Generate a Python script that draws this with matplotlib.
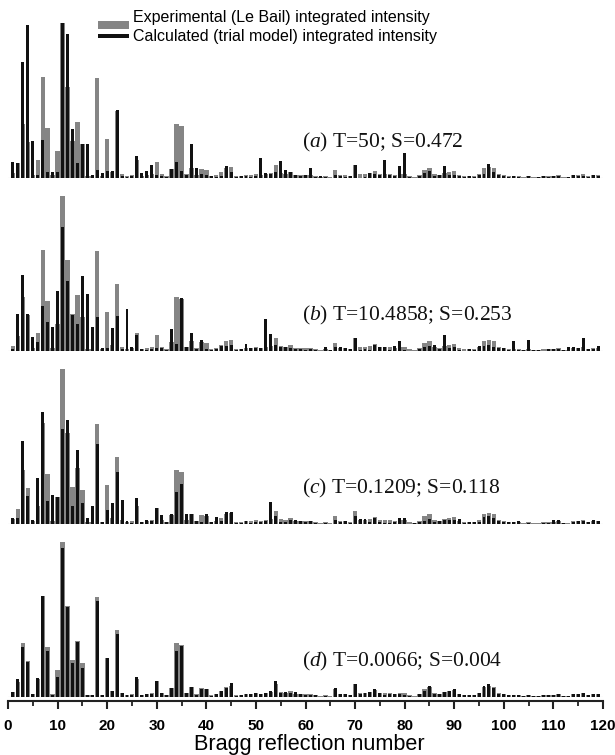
import matplotlib
matplotlib.use("Agg")
import matplotlib.pyplot as plt
import numpy as np
from matplotlib.patches import Rectangle

plt.rcParams["font.family"] = ["Liberation Sans", "DejaVu Sans"]
plt.rcParams["mathtext.fontset"] = "custom"
plt.rcParams["mathtext.rm"] = "Liberation Serif"
plt.rcParams["mathtext.it"] = "Liberation Serif:italic"

# Bragg reflection numbers 1..119
reflections = np.arange(1, 120)

# experimental (Le Bail) integrated intensity, same in every panel
experimental = (
    [5, 15, 54, 36, 3, 18, 101, 50, 3, 27, 155, 91, 37, 56, 34, 2, 2, 100, 2, 39,
     6, 67, 4, 2, 3, 18, 2, 3, 4, 16, 4, 2, 9, 54, 52, 4, 10, 3, 9, 8]
    + [2, 3, 6, 10, 11, 2, 2, 3, 3, 4, 3, 4, 5, 13, 5, 4, 6, 3, 3, 3,
       3, 2, 1, 2, 1, 8, 3, 3, 2, 13, 4, 4, 5, 7, 4, 4, 4, 3, 4, 4]
    + [2, 1, 3, 8, 10, 4, 3, 5, 6, 7, 3, 2, 2, 2, 4, 10, 11, 10, 4, 3,
       2, 2, 2, 1, 2, 1, 1, 2, 2, 2, 3, 1, 1, 3, 3, 4, 2, 3, 3]
)

# calculated (trial model) integrated intensity for each panel
calc_a = (
    [16, 15, 116, 153, 37, 3, 38, 6, 6, 6, 155, 144, 49, 15, 34, 34, 3, 8, 5, 7,
     7, 68, 2, 1, 2, 22, 5, 7, 13, 3, 2, 1, 9, 16, 7, 3, 34, 10, 4, 3]
    + [2, 1, 2, 12, 6, 1, 2, 2, 1, 2, 20, 5, 4, 6, 17, 8, 6, 3, 2, 3,
       10, 1, 2, 1, 0, 3, 2, 1, 2, 13, 0, 1, 5, 4, 3, 18, 3, 2, 12, 25]
    + [1, 0, 2, 5, 7, 2, 3, 12, 3, 3, 2, 1, 2, 1, 3, 4, 14, 6, 3, 2,
       1, 2, 1, 0, 2, 0, 1, 2, 1, 2, 2, 0, 1, 3, 2, 2, 1, 3, 2]
)
calc_b = (
    [2, 37, 76, 37, 14, 9, 45, 29, 24, 60, 124, 70, 36, 27, 75, 57, 24, 34, 3, 3,
     23, 35, 2, 42, 4, 16, 2, 1, 2, 3, 3, 1, 22, 7, 53, 4, 18, 2, 11, 2]
    + [1, 2, 5, 5, 6, 1, 2, 7, 3, 3, 3, 32, 17, 6, 4, 4, 3, 2, 2, 1,
       2, 1, 0, 4, 1, 4, 4, 3, 2, 13, 1, 2, 1, 6, 4, 4, 1, 5, 10, 1]
    + [0, 0, 2, 4, 5, 6, 2, 16, 3, 4, 1, 0, 2, 1, 5, 5, 6, 4, 3, 3,
       1, 10, 1, 1, 11, 1, 1, 0, 2, 2, 2, 1, 4, 4, 3, 13, 2, 2, 5]
)
calc_c = (
    [6, 6, 83, 28, 4, 46, 112, 23, 29, 27, 95, 104, 18, 74, 21, 6, 18, 80, 2, 14,
     21, 52, 24, 3, 1, 26, 2, 4, 3, 16, 9, 2, 10, 32, 40, 10, 10, 3, 2, 10]
    + [2, 7, 3, 12, 12, 1, 1, 3, 1, 2, 2, 3, 22, 8, 2, 2, 4, 4, 3, 2,
       3, 1, 0, 1, 0, 4, 2, 3, 1, 8, 5, 5, 2, 6, 2, 1, 1, 2, 6, 6]
    + [0, 1, 2, 3, 5, 2, 3, 4, 4, 4, 5, 1, 2, 2, 2, 7, 8, 6, 3, 2,
       2, 2, 3, 0, 1, 0, 0, 1, 1, 4, 4, 1, 0, 2, 3, 3, 2, 4, 3]
)
calc_d = (
    [5, 18, 50, 35, 3, 19, 101, 46, 2, 20, 149, 90, 34, 55, 29, 2, 2, 96, 2, 39,
     6, 63, 4, 2, 2, 20, 2, 3, 3, 16, 4, 2, 9, 46, 51, 4, 10, 2, 8, 8]
    + [1, 3, 6, 9, 14, 1, 2, 3, 3, 4, 3, 4, 6, 16, 4, 5, 4, 5, 3, 2,
       2, 2, 0, 1, 0, 9, 3, 3, 2, 13, 3, 4, 5, 8, 4, 2, 3, 3, 3, 2]
    + [1, 0, 3, 6, 11, 3, 3, 5, 6, 8, 3, 2, 2, 2, 4, 11, 13, 9, 3, 3,
       2, 2, 2, 1, 2, 1, 1, 2, 2, 2, 3, 1, 1, 3, 3, 4, 2, 3, 3]
)

panel_labels = ["a", "b", "c", "d"]
panel_T = ["50", "10.4858", "0.1209", "0.0066"]
panel_S = ["0.472", "0.253", "0.118", "0.004"]
calculated = [calc_a, calc_b, calc_c, calc_d]
legend_labels = ["Experimental (Le Bail) integrated intensity",
                 "Calculated (trial model) integrated intensity"]

GRAY = "#858585"
BLACK = "#111111"

W, H = 615, 755
fig = plt.figure(figsize=(W / 100, H / 100), dpi=100)

x0_px, x1_px = 8.0, 603.0
baselines_px = [178, 351, 524, 697]
panel_h_px = 160

axes = []
for i, base in enumerate(baselines_px):
    ax = fig.add_axes([x0_px / W, 1 - base / H, (x1_px - x0_px) / W, panel_h_px / H])
    ax.set_xlim(0, 120)
    ax.set_ylim(0, panel_h_px)
    ax.axhline(0, color="#c8c8c8", lw=0.8, zorder=1)
    ax.bar(reflections, experimental, width=0.88, color=GRAY, lw=0, zorder=2)
    ax.bar(reflections, calculated[i], width=0.6, color=BLACK, lw=0, zorder=3)
    ax.text(59.2, 31, rf"($\mathit{{{panel_labels[i]}}}$) T={panel_T[i]}; S={panel_S[i]}",
            fontsize=15.5, family="Liberation Serif", va="baseline", ha="left",
            color=BLACK)
    for s in ax.spines.values():
        s.set_visible(False)
    ax.set_yticks([])
    ax.set_xticks([])
    axes.append(ax)

# bottom axis on the last panel
ax = axes[-1]
ax.spines["bottom"].set_visible(True)
ax.spines["bottom"].set_position(("outward", 3))
ax.spines["bottom"].set_linewidth(1.5)
ax.spines["bottom"].set_color("#222222")
ax.set_xticks(np.arange(0, 121, 10))
ax.set_xticks(np.arange(5, 120, 10), minor=True)
ax.tick_params(axis="x", which="major", direction="out", length=6, width=1.5,
               labelsize=11, pad=7, color="#222222")
ax.tick_params(axis="x", which="minor", direction="out", length=3.5, width=1.3,
               color="#222222")
for lab in ax.get_xticklabels():
    lab.set_fontweight("bold")
fig.text(309 / W, 1 - 750 / H, "Bragg reflection number", fontsize=15.6,
         ha="center", va="baseline")

# legend swatches and labels
fig.add_artist(Rectangle((98 / W, 1 - 28.5 / H), 31 / W, 7.5 / H,
                         transform=fig.transFigure, color=GRAY, lw=0))
fig.add_artist(Rectangle((98 / W, 1 - 37.5 / H), 31 / W, 3.5 / H,
                         transform=fig.transFigure, color=BLACK, lw=0))
fig.text(133 / W, 1 - 17.5 / H, legend_labels[0], fontsize=11.5, va="center")
fig.text(133 / W, 1 - 36.5 / H, legend_labels[1], fontsize=11.5, va="center")

fig.savefig("out.png", dpi=100)
